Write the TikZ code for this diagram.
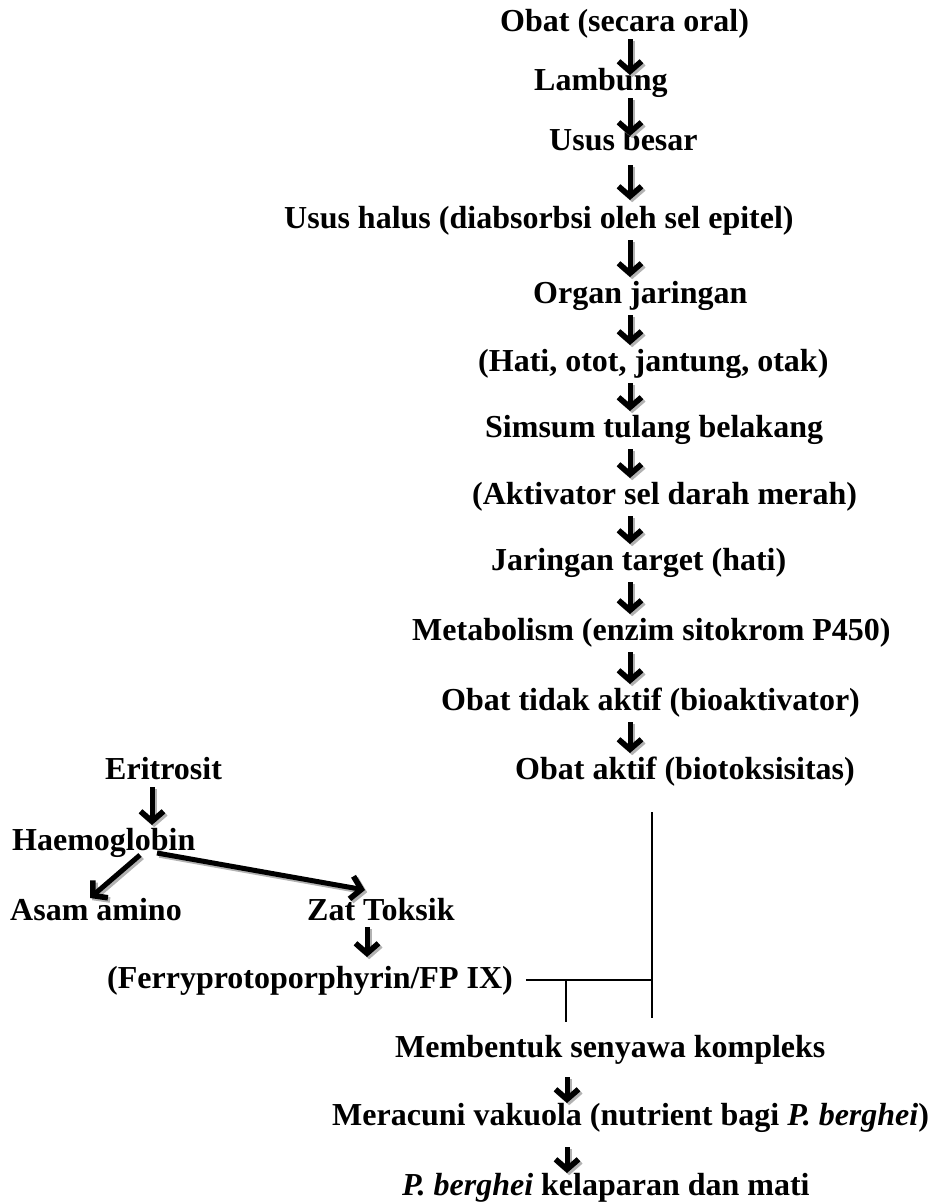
\documentclass[tikz,border=0pt]{standalone}
\usepackage{fontspec}
\setmainfont{Liberation Serif}
\usetikzlibrary{arrows.meta,calc}
\begin{document}
\begin{tikzpicture}[x=1pt,y=-1pt,
  lbl/.style={font=\fontsize{32}{36}\selectfont\bfseries, inner sep=0pt, anchor=base west},
  tipst/.style={-{Straight Barb[length=10pt,width=23pt,line width=5.6pt]}},
  arr/.style={line width=5pt, tipst,
    preaction={draw=gray!60, line width=5pt, tipst, transform canvas={xshift=2.2pt,yshift=-2.2pt}}},
  ln/.style={line width=1.5pt}]
\useasboundingbox (0,0) rectangle (934,1202);
% main column
\node[lbl] (n1) at (500,31) {Obat (secara oral)};
\node[lbl] (n2) at (534,90) {Lambung};
\node[lbl] (n3) at (549,150) {Usus besar};
\node[lbl] (n4) at (284,228) {Usus halus (diabsorbsi oleh sel epitel)};
\node[lbl] (n5) at (533,303) {Organ jaringan};
\node[lbl] (n6) at (478,371) {(Hati, otot, jantung, otak)};
\node[lbl] (n7) at (485,437) {Simsum tulang belakang};
\node[lbl] (n8) at (472,504) {(Aktivator sel darah merah)};
\node[lbl] (n9) at (491,570) {Jaringan target (hati)};
\node[lbl] (n10) at (412,640) {Metabolism (enzim sitokrom P450)};
\node[lbl] (n11) at (441,710) {Obat tidak aktif (bioaktivator)};
\node[lbl] (n12) at (515,779) {Obat aktif (biotoksisitas)};
% left branch
\node[lbl] (e1) at (105,779) {Eritrosit};
\node[lbl] (e2) at (12,850) {Haemoglobin};
\node[lbl] (e3) at (10,920) {Asam amino};
\node[lbl] (e4) at (307,920) {Zat Toksik};
\node[lbl] (e5) at (107,988) {(Ferryprotoporphyrin/FP IX)};
% bottom
\node[lbl] (b1) at (395,1057) {Membentuk senyawa kompleks};
\node[lbl] (b2) at (332,1125) {Meracuni vakuola (nutrient bagi \textit{P. berghei})};
\node[lbl] (b3) at (402,1195) {\textit{P. berghei} kelaparan dan mati};
% arrow columns
\coordinate (ax) at (630,0);
\coordinate (bx) at (567,0);
\coordinate (cx) at (367,0);
\coordinate (dx) at (152,0);
\draw[arr] ($(n1.base -| ax)+(0,8)$) -- ($(n2.base -| ax)+(0,-15)$);
\draw[arr] ($(n2.base -| ax)+(0,8)$) -- ($(n3.base -| ax)+(0,-14)$);
\draw[arr] ($(n3.base -| ax)+(0,15)$) -- ($(n4.base -| ax)+(0,-28)$);
\foreach \a/\b in {n4/n5,n5/n6,n6/n7,n7/n8,n8/n9,n9/n10,n10/n11,n11/n12}
  \draw[arr] ($(\a.base -| ax)+(0,12)$) -- ($(\b.base -| ax)+(0,-26)$);
\draw[arr] ($(e1.base -| dx)+(0,8)$) -- ($(e2.base -| dx)+(0,-25)$);
\draw[arr] ($(e2.base west)+(128,5)$) -- ($(e3.base west)+(80,-22)$);
\draw[arr] ($(e2.base west)+(145,3)$) -- ($(e4.base west)+(58,-30)$);
\draw[arr] ($(e4.base -| cx)+(0,7)$) -- ($(e5.base -| cx)+(0,-31)$);
\draw[arr] ($(b1.base -| bx)+(0,20)$) -- ($(b2.base -| bx)+(0,-22)$);
\draw[arr] ($(b2.base -| bx)+(0,22)$) -- ($(b3.base -| bx)+(0,-22)$);
% connector lines
\coordinate (t1) at (652,812);
\coordinate (t2) at (652,1018);
\coordinate (j2) at (566,1022);
\coordinate (s1) at ($(e5.base east)+(13,-8)$);
\draw[ln] (s1) -- (s1 -| t1);
\draw[ln] (t1) -- (t2);
\draw[ln] (s1 -| j2) -- (j2);
\end{tikzpicture}
\end{document}
